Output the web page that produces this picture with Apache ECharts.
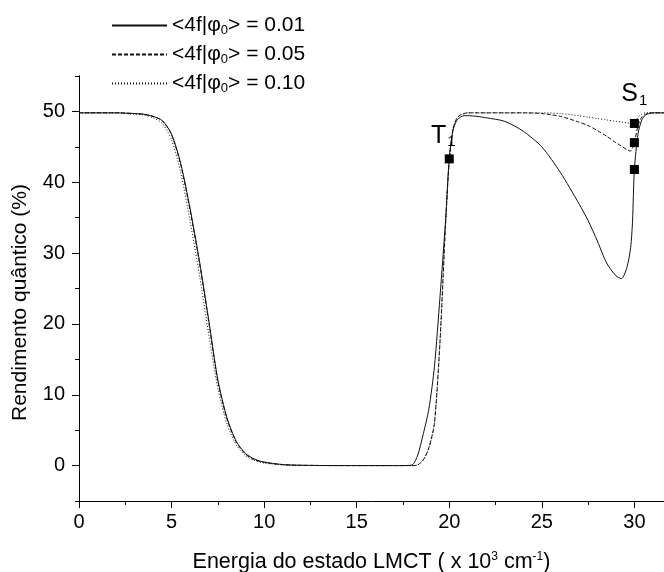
<!DOCTYPE html>
<html>
<head>
<meta charset="utf-8">
<script src="https://cdn.jsdelivr.net/npm/echarts@6/dist/echarts.min.js"></script>
<style>
  html, body { margin: 0; padding: 0; background: #fff; }
  #chart { width: 664px; height: 572px; }
</style>
</head>
<body>
<div id="chart"></div>
<script>
// energy of the LMCT state (x 10^3 cm-1)
const energy = [0, 2, 3, 3.5, 4, 4.5, 5, 5.5, 6, 6.5,
  7, 7.5, 8, 8.5, 9, 9.5, 10, 11, 12, 14,
  16, 17, 17.5, 18, 18.3, 18.6, 18.9, 19.2, 19.5, 19.8,
  20, 20.2, 20.4, 20.6, 20.8, 21, 21.5, 22, 23, 24,
  25, 26, 27, 27.5, 28, 28.5, 29, 29.3, 29.6, 29.8,
  29.9, 30, 30.2, 30.4, 30.6, 30.8, 31, 31.6]

// quantum yield (%) for each <4f|phi0> value
const yield001 = [49.8, 49.8, 49.7, 49.6, 49.3, 48.7, 46.8, 42.6, 36.3, 29,
  20.7, 12.1, 6.7, 3.4, 1.7, 0.9, 0.5, 0.15, 0.05, 0,
  0, 0, 0, 0.1, 1.5, 4.5, 8, 14, 23.8, 34.6,
  43.4, 47.3, 48.7, 49.2, 49.4, 49.4, 49.3, 49.1, 48.6, 47.2,
  45, 41.4, 37, 34.6, 31.7, 28.6, 26.8, 26.4, 28, 30.8,
  34.5, 41.8, 46.9, 48.8, 49.5, 49.7, 49.8, 49.8]
const yield005 = [49.8, 49.8, 49.7, 49.6, 49.3, 48.7, 46.7, 42.4, 36, 28.7,
  20.4, 11.9, 6.5, 3.3, 1.6, 0.8, 0.45, 0.12, 0.04, 0,
  0, 0, 0, 0, 0.1, 0.8, 2.5, 6, 17.5, 34,
  43, 47.5, 49, 49.5, 49.7, 49.8, 49.8, 49.8, 49.8, 49.8,
  49.7, 49.3, 48.5, 48, 47.3, 46.5, 45.6, 45.1, 44.6, 44.4,
  44.8, 45.6, 48, 49.2, 49.6, 49.8, 49.8, 49.8]
const yield010 = [49.8, 49.8, 49.6, 49.5, 49.1, 48.3, 46, 41.3, 34.5, 27,
  18.6, 10.9, 5.8, 2.9, 1.4, 0.7, 0.35, 0.1, 0, 0,
  0, 0, 0, 0, 0.1, 0.8, 2.5, 6, 17.5, 34,
  43, 47.5, 49, 49.5, 49.7, 49.8, 49.8, 49.8, 49.8, 49.8,
  49.8, 49.7, 49.4, 49.2, 49, 48.8, 48.6, 48.5, 48.4, 48.3,
  48.3, 48.3, 49.2, 49.6, 49.8, 49.8, 49.8, 49.8]

const overlapValues = ['0.01', '0.05', '0.10']

// marked states
const t1X = [20]
const t1Y = [43.3]
const s1X = [30, 30, 30]
const s1Y = [48.3, 45.6, 41.8]

const yMajor = [0, 10, 20, 30, 40, 50]
const yMinor = [-5, 5, 15, 25, 35, 45, 55]

const fontFamily = '"Liberation Sans", Arial, Helvetica, sans-serif'
const ink = '#000'

const names = overlapValues.map(v => '<4f|φ0> = ' + v)
const curves = [yield001, yield005, yield010]
const dashes = ['solid', [4, 2], [1, 2]]

const chart = echarts.init(document.getElementById('chart'))

const lineSeries = curves.map((ys, i) => ({
  name: names[i],
  type: 'line',
  data: energy.map((x, j) => [x, ys[j]]),
  symbol: 'none',
  showSymbol: false,
  smooth: 0.25,
  lineStyle: { color: '#111', width: 1, type: dashes[i] },
  itemStyle: { color: '#111' },
  z: 2
}))

const subRich = {
  m: { fontSize: 25, color: ink, fontFamily },
  s: { fontSize: 15, color: ink, fontFamily, padding: [12, 0, 0, 1] }
}

chart.setOption({
  animation: false,
  textStyle: { fontFamily },
  grid: { left: 79, right: 0, top: 76, bottom: 71, outerBoundsMode: 'none' },
  legend: {
    data: names,
    orient: 'vertical',
    left: 111,
    top: 15,
    padding: 0,
    itemWidth: 55,
    itemHeight: 14,
    itemGap: 7,
    itemStyle: { opacity: 0 },
    textStyle: {
      fontSize: 21,
      color: ink,
      rich: { sub: { fontSize: 13, color: ink, padding: [10, 0, 0, 0] } }
    },
    formatter: name => name.replace('φ0', 'φ{sub|0}')
  },
  xAxis: {
    type: 'value',
    min: 0,
    max: 31.6,
    interval: 5,
    name: 'Energia do estado LMCT ( x 10{sup|3} cm{sup|-1})',
    nameLocation: 'middle',
    nameGap: 50,
    nameTextStyle: {
      fontSize: 21.5,
      color: ink,
      rich: { sup: { fontSize: 12, color: ink, padding: [0, 0, 11, 0] } }
    },
    axisLine: { onZero: false, lineStyle: { color: '#000', width: 1 } },
    axisTick: { length: 7, lineStyle: { color: '#000' } },
    minorTick: { show: true, splitNumber: 2, length: 4, lineStyle: { color: '#000' } },
    splitLine: { show: false },
    axisLabel: { fontSize: 20, color: ink, margin: 11, showMaxLabel: false }
  },
  yAxis: [{
    type: 'value',
    min: -5,
    max: 55,
    position: 'left',
    name: 'Rendimento quântico (%)',
    nameLocation: 'middle',
    nameGap: 48,
    nameTextStyle: { fontSize: 21, color: ink, padding: [0, 28, 0, 0] },
    axisLine: { show: true, onZero: false, lineStyle: { color: '#000', width: 1 } },
    axisTick: { show: true, customValues: yMajor, length: 7, lineStyle: { color: '#000' } },
    axisLabel: { customValues: yMajor, fontSize: 20, color: ink, margin: 14 },
    splitLine: { show: false }
  }, {
    type: 'value',
    min: -5,
    max: 55,
    position: 'left',
    axisLine: { show: true, onZero: false, lineStyle: { color: '#000', width: 1 } },
    axisTick: { show: true, customValues: yMinor, length: 4, lineStyle: { color: '#000' } },
    axisLabel: { show: false },
    splitLine: { show: false }
  }],
  series: lineSeries.concat([{
    name: 'T1',
    type: 'scatter',
    symbol: 'rect',
    symbolSize: 9,
    itemStyle: { color: '#000', opacity: 1 },
    data: t1X.map((x, i) => [x, t1Y[i]]),
    label: {
      show: true,
      position: 'top',
      offset: [-6, 0],
      formatter: '{m|T}{s|1}',
      rich: subRich
    },
    z: 3
  }, {
    name: 'S1',
    type: 'scatter',
    symbol: 'rect',
    symbolSize: 9,
    itemStyle: { color: '#000', opacity: 1 },
    data: s1X.map((x, i) => i === 0
      ? { value: [x, s1Y[i]], label: { show: true } }
      : [x, s1Y[i]]),
    label: {
      show: false,
      position: 'top',
      offset: [0, -6],
      formatter: '{m|S}{s|1}',
      rich: subRich
    },
    z: 3
  }])
})
</script>
</body>
</html>
